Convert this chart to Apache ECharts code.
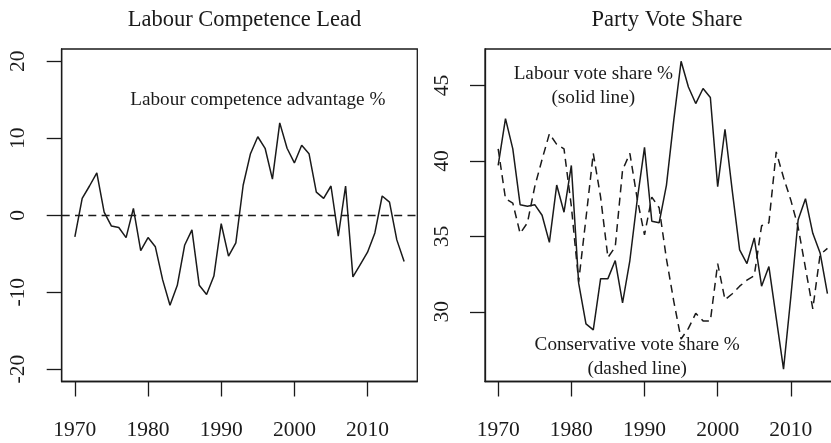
<!DOCTYPE html>
<html>
<head>
<meta charset="utf-8">
<script src="https://cdn.jsdelivr.net/npm/echarts@6/dist/echarts.min.js"></script>
<style>
html,body{margin:0;padding:0;background:#fff;}
#c{width:831px;height:443px;}
</style>
</head>
<body>
<div id="c"></div>
<script>
// ---- data ----
var years = [];
for (var y = 1970; y <= 2015; y++) years.push(y);

var competenceLead = [
  -2.8, 2.2, 3.8, 5.5, 0.4, -1.4, -1.6, -2.9, 0.9, -4.6,
  -2.9, -4.1, -8.4, -11.7, -9.1, -3.9, -1.9, -9.1, -10.3, -7.9,
  -1.1, -5.3, -3.6, 3.9, 8.0, 10.2, 8.7, 4.7, 12.0, 8.7,
  6.8, 9.1, 8.0, 3.0, 2.2, 3.8, -2.7, 3.8, -8.0, -6.4,
  -4.8, -2.3, 2.5, 1.7, -3.2, -6.0
];

var labourShare = [
  39.7, 42.8, 40.8, 37.1, 37.0, 37.1, 36.4, 34.6, 38.4, 36.6,
  39.7, 31.9, 29.2, 28.8, 32.2, 32.2, 33.4, 30.6, 33.4, 37.4,
  40.9, 36.0, 35.9, 38.4, 42.7, 46.6, 44.9, 43.8, 44.8, 44.2,
  38.3, 42.1, 38.0, 34.1, 33.2, 34.9, 31.7, 33.0, 29.6, 26.2,
  31.0, 36.1, 37.5, 35.2, 33.9, 31.2
];

var conservativeShare = [
  40.8, 37.5, 37.2, 35.2, 35.9, 38.3, 40.1, 41.8, 41.1, 40.8,
  37.0, 32.0, 36.2, 40.5, 37.6, 33.6, 34.3, 39.4, 40.5, 37.5,
  35.1, 37.6, 36.9, 33.5, 30.7, 28.2, 28.9, 29.9, 29.4, 29.4,
  33.2, 30.8, 31.2, 31.7, 32.1, 32.4, 35.7, 35.9, 40.6, 38.9,
  37.4, 35.6, 32.9, 30.2, 33.8, 34.2
];

var xTicks = [1970, 1980, 1990, 2000, 2010];
var leadTicks = [-20, -10, 0, 10, 20];
var shareTicks = [30, 35, 40, 45];

function pairs(xs, ys) { return xs.map(function (x, i) { return [x, ys[i]]; }); }

// R-style 4% range expansion
function expand(lo, hi) { var d = (hi - lo) * 0.04; return [lo - d, hi + d]; }
var xr = expand(1970, 2015);
var lr = expand(-20, 20);
var allShare = labourShare.concat(conservativeShare);
var sr = expand(Math.min.apply(null, allShare), Math.max.apply(null, allShare));

var FONT = 'Liberation Serif';
var INK = '#1a1a1a';
var DASH = [8, 5.3];

function plain(v) { return String(v); }

function xAxisCfg(idx) {
  return {
    type: 'value', gridIndex: idx, min: xr[0], max: xr[1],
    axisLine: { show: true, onZero: false, lineStyle: { color: INK, width: 1.3 } },
    axisTick: { show: true, inside: false, length: 15, customValues: xTicks, lineStyle: { color: INK, width: 1.3 } },
    axisLabel: { show: true, customValues: xTicks, formatter: plain, margin: 38, fontFamily: FONT, fontSize: 21.5, color: INK },
    splitLine: { show: false }
  };
}
function yAxisCfg(idx, r, ticks) {
  return {
    type: 'value', gridIndex: idx, min: r[0], max: r[1],
    axisLine: { show: true, onZero: false, lineStyle: { color: INK, width: 1.3 } },
    axisTick: { show: true, inside: false, length: 15, customValues: ticks, lineStyle: { color: INK, width: 1.3 } },
    axisLabel: { show: true, customValues: ticks, formatter: plain, rotate: 90, margin: 32, fontFamily: FONT, fontSize: 21.5, color: INK },
    splitLine: { show: false }
  };
}

var chart = echarts.init(document.getElementById('c'), null, { renderer: 'canvas' });
var option = {
  animation: false,
  backgroundColor: '#ffffff',
  title: [
    { text: 'Labour Competence Lead', left: 239.5, top: 4, textAlign: 'center',
      textStyle: { fontFamily: FONT, fontWeight: 'normal', fontSize: 22.5, color: INK } },
    { text: 'Party Vote Share', left: 662, top: 4, textAlign: 'center',
      textStyle: { fontFamily: FONT, fontWeight: 'normal', fontSize: 22.5, color: INK } }
  ],
  grid: [
    { left: 61.7, top: 49, width: 355.6, height: 332.5, outerBoundsMode: 'none', containLabel: false,
      show: true, borderColor: INK, borderWidth: 1.3, backgroundColor: 'transparent' },
    { left: 485, top: 49, width: 355.6, height: 332.5, outerBoundsMode: 'none', containLabel: false,
      show: true, borderColor: INK, borderWidth: 1.3, backgroundColor: 'transparent' }
  ],
  xAxis: [xAxisCfg(0), xAxisCfg(1)],
  yAxis: [yAxisCfg(0, lr, leadTicks), yAxisCfg(1, sr, shareTicks)],
  series: [
    {
      type: 'line', xAxisIndex: 0, yAxisIndex: 0, data: pairs(years, competenceLead),
      showSymbol: false, symbol: 'none', lineStyle: { color: INK, width: 1.5 },
      markLine: {
        silent: true, symbol: 'none', label: { show: false },
        lineStyle: { color: INK, width: 1.4, type: DASH },
        data: [{ yAxis: 0 }]
      }
    },
    {
      type: 'line', xAxisIndex: 1, yAxisIndex: 1, data: pairs(years, labourShare),
      showSymbol: false, symbol: 'none', lineStyle: { color: INK, width: 1.5 }
    },
    {
      type: 'line', xAxisIndex: 1, yAxisIndex: 1, data: pairs(years, conservativeShare),
      showSymbol: false, symbol: 'none', lineStyle: { color: INK, width: 1.5, type: DASH }
    }
  ]
};
chart.setOption(option);

// annotations placed at data coordinates (like R text())
function place(gridIdx, x, y) {
  return chart.convertToPixel({ gridIndex: gridIdx }, [x, y]);
}
var p1 = place(0, 1995, 15);
var p2 = place(1, 1983, 45);
var p3 = place(1, 1989, 27);
var annStyle = { fontFamily: FONT, fontSize: 19.2, fill: INK, align: 'center', verticalAlign: 'middle', lineHeight: 24 };
chart.setOption({
  graphic: [
    { type: 'text', x: p1[0], y: p1[1], style: Object.assign({ text: 'Labour competence advantage %' }, annStyle) },
    { type: 'text', x: p2[0], y: p2[1], style: Object.assign({ text: 'Labour vote share %\n(solid line)' }, annStyle) },
    { type: 'text', x: p3[0], y: p3[1], style: Object.assign({ text: 'Conservative vote share %\n(dashed line)' }, annStyle) }
  ]
});
</script>
</body>
</html>
